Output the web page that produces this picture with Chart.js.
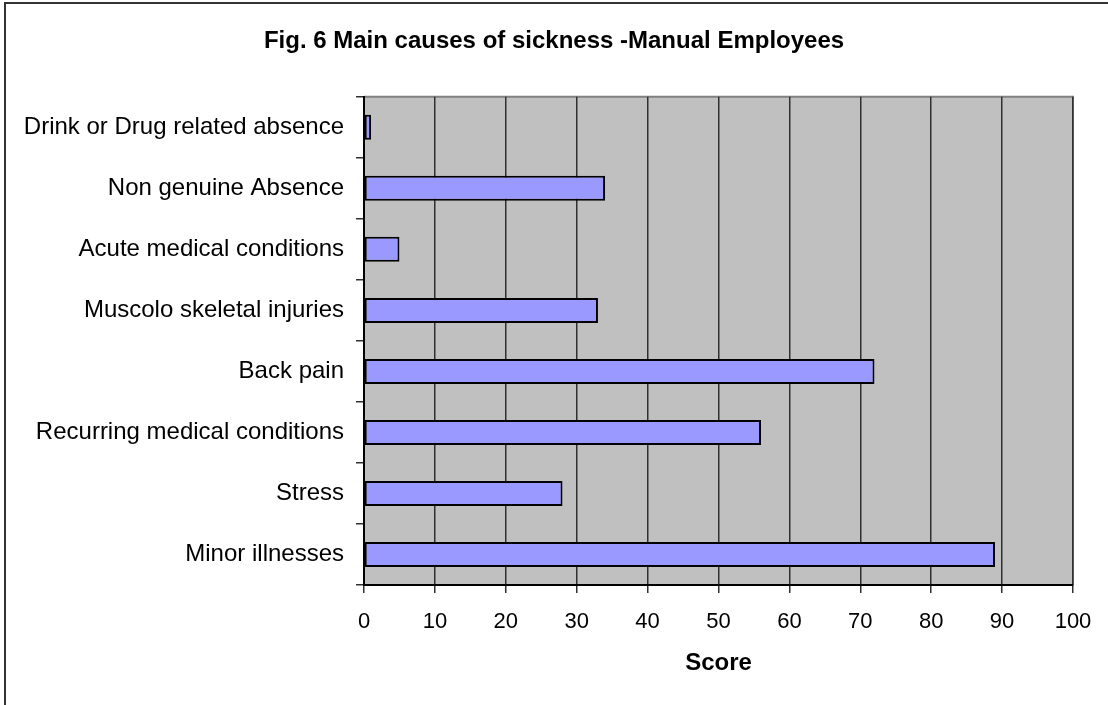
<!DOCTYPE html>
<html>
<head>
<meta charset="utf-8">
<script src="https://cdn.jsdelivr.net/npm/chart.js@4/dist/chart.umd.min.js"></script>
<style>
  html, body { margin: 0; padding: 0; background: #ffffff; }
  #wrap { position: relative; width: 1108px; height: 705px; }
</style>
</head>
<body>
<div id="wrap"><canvas id="chart"></canvas></div>
<script>
// Causes of sickness, listed top to bottom
const causes = [
  'Drink or Drug related absence',
  'Non genuine Absence',
  'Acute medical conditions',
  'Muscolo skeletal injuries',
  'Back pain',
  'Recurring medical conditions',
  'Stress',
  'Minor illnesses'
];
// Score for each cause
const scores = [1, 34, 5, 33, 72, 56, 28, 89];

const chartTitle = 'Fig. 6 Main causes of sickness -Manual Employees';
const axisTitle = 'Score';

// Grey plot background with a thin grey frame, plus the page frame
const plotBackdrop = {
  id: 'plotBackdrop',
  beforeDraw(chart) {
    const { ctx, chartArea: a } = chart;
    ctx.save();
    ctx.fillStyle = '#c0c0c0';
    ctx.fillRect(a.left, a.top, a.right - a.left, a.bottom - a.top);
    ctx.strokeStyle = '#808080';
    ctx.lineWidth = 2;
    ctx.beginPath();
    ctx.moveTo(a.left, a.top);
    ctx.lineTo(a.right, a.top);
    ctx.lineTo(a.right, a.bottom);
    ctx.stroke();
    // outer frame of the figure (left and top edges)
    ctx.strokeStyle = '#333333';
    ctx.lineWidth = 2;
    ctx.beginPath();
    ctx.moveTo(5, chart.height + 5);
    ctx.lineTo(5, 3);
    ctx.lineTo(chart.width + 5, 3);
    ctx.stroke();
    ctx.restore();
  }
};

new Chart(document.getElementById('chart'), {
  type: 'bar',
  data: {
    labels: causes,
    datasets: [{
      data: scores,
      backgroundColor: '#9999ff',
      borderColor: '#000000',
      borderWidth: 2,
      borderSkipped: false,
      categoryPercentage: 1,
      barPercentage: 0.41
    }]
  },
  options: {
    indexAxis: 'y',
    responsive: true,
    maintainAspectRatio: false,
    animation: false,
    layout: { padding: 0 },
    plugins: {
      legend: { display: false },
      tooltip: { enabled: false },
      title: {
        display: true,
        text: chartTitle,
        color: '#000000',
        font: { family: 'Liberation Sans, Arial, sans-serif', size: 24, weight: 'bold' },
        padding: { top: 27, bottom: 41 }
      }
    },
    scales: {
      x: {
        min: 0,
        max: 100,
        ticks: {
          stepSize: 10,
          color: '#000000',
          padding: 16,
          font: { family: 'Liberation Sans, Arial, sans-serif', size: 22 }
        },
        grid: {
          color: '#303030',
          lineWidth: 1.5,
          tickLength: 8,
          tickColor: '#303030'
        },
        border: { color: '#000000', width: 2 },
        title: {
          display: true,
          text: axisTitle,
          color: '#000000',
          font: { family: 'Liberation Sans, Arial, sans-serif', size: 24, weight: 'bold' },
          padding: { top: 0, bottom: 27 }
        },
        afterFit(scale) { scale.height = 120; }
      },
      y: {
        ticks: {
          color: '#000000',
          padding: 12,
          font: { family: 'Liberation Sans, Arial, sans-serif', size: 24 }
        },
        grid: {
          offset: true,
          drawOnChartArea: false,
          tickLength: 8,
          tickColor: '#303030',
          lineWidth: 1.5
        },
        border: { color: '#000000', width: 2 },
        afterFit(scale) { scale.width = 364; }
      },
      // empty margin on the right of the plot
      yRight: {
        type: 'category',
        position: 'right',
        grid: { display: false },
        ticks: { display: false },
        border: { display: false },
        afterFit(scale) { scale.width = 35; }
      }
    }
  },
  plugins: [plotBackdrop]
});
</script>
</body>
</html>
